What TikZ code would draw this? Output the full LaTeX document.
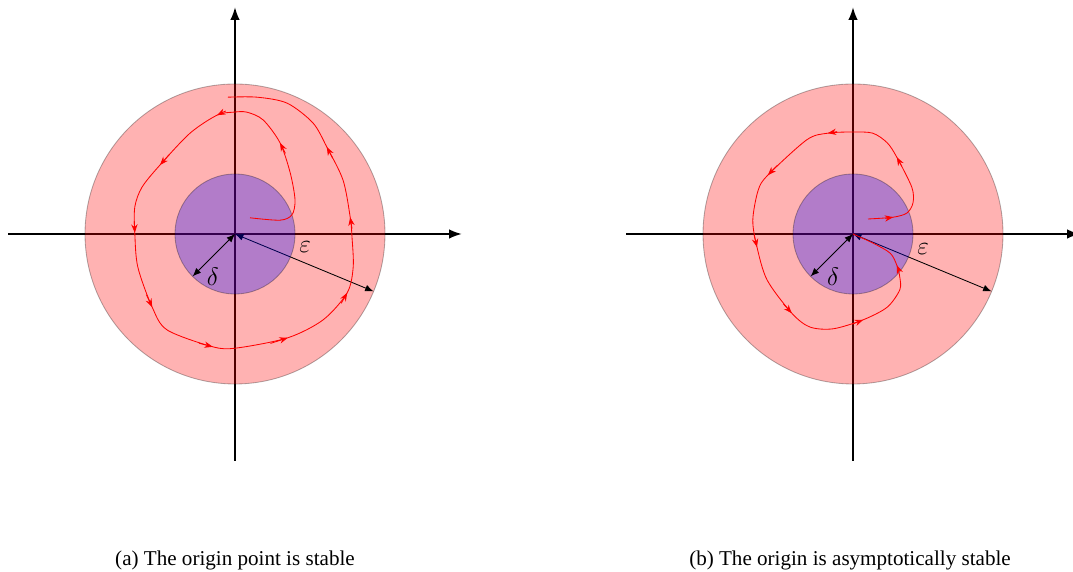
\documentclass[tikz,border=0pt]{standalone}
\usepackage{fontspec}
\setmainfont{Liberation Serif}
\usetikzlibrary{arrows.meta,calc}
\newcommand\trajtipat[3]{\draw[trajtip] ($(#2)+0.2*(#1)-0.2*(#3)$) -- (#2);}
\begin{document}
\begin{tikzpicture}[
  axis/.style={thick,-{Latex[length=6pt,width=4.5pt]}},
  outerdisc/.style={draw=black,fill=red,opacity=0.3},
  innerdisc/.style={draw=black,fill=blue,opacity=0.3},
  radiusarrow/.style={{Latex[length=4pt,width=3.2pt]}-{Latex[length=4pt,width=3.2pt]}},
  traj/.style={red},
  trajtip/.style={red,-{Stealth[length=4pt,width=3pt]}},
  lbl/.style={font=\large},
  captiontext/.style={anchor=base,font=\fontsize{10}{12}\selectfont}
]
\useasboundingbox (-3.9167,-5.6333) rectangle (13.9667,3.9);
\clip (-3.9167,-5.6333) rectangle (13.9667,3.9);

% ---------- (a) ----------
\begin{scope}
\coordinate (Oa) at (0,0);
\coordinate (Lxa) at (-3.78,0);
\coordinate (Rxa) at (3.78,0);
\coordinate (Bya) at (0,-3.78);
\coordinate (Tya) at (0,3.78);
\coordinate (Ea) at (-22.5:2.5);
\coordinate (Da) at (225:1);
\draw[axis] (Lxa) -- (Rxa);
\draw[axis] (Bya) -- (Tya);
\draw[outerdisc] (Oa) circle (2.5);
\draw[radiusarrow] (Oa) -- (Ea);
\draw[innerdisc] (Oa) circle (1);
\draw[radiusarrow] (Oa) -- (Da);
\coordinate (a4) at (0.92,1.02);
\coordinate (a5) at (0.75,1.52);
\coordinate (a6) at (0.47,1.9);
\coordinate (a8) at (-0.03,2.03);
\coordinate (a9) at (-0.3,1.98);
\coordinate (a10) at (-0.75,1.68);
\coordinate (a11) at (-1.25,1.15);
\coordinate (a12) at (-1.55,0.78);
\coordinate (a13) at (-1.67,0.45);
\coordinate (a14) at (-1.67,0.02);
\coordinate (a15) at (-1.62,-0.55);
\coordinate (a16) at (-1.38,-1.22);
\coordinate (a17) at (-1.13,-1.6);
\coordinate (a18) at (-0.37,-1.88);
\coordinate (a19) at (0.03,-1.9);
\coordinate (a20) at (0.88,-1.73);
\coordinate (a21) at (1.47,-1.43);
\coordinate (a22) at (1.87,-0.98);
\coordinate (a23) at (1.97,-0.55);
\coordinate (a24) at (1.95,-0.05);
\coordinate (a25) at (1.92,0.28);
\coordinate (a26) at (1.8,0.9);
\coordinate (a27) at (1.53,1.45);
\coordinate (a28) at (1.3,1.85);
\draw[traj] plot[smooth] coordinates {(0.25,0.27) (0.75,0.23) (0.95,0.32) (1.0,0.57) (0.92,1.02) (0.75,1.52) (0.47,1.9) (0.2,2.03) (-0.03,2.03) (-0.3,1.98) (-0.75,1.68) (-1.25,1.15) (-1.55,0.78) (-1.67,0.45) (-1.67,0.02) (-1.62,-0.55) (-1.38,-1.22) (-1.13,-1.6) (-0.37,-1.88) (0.03,-1.9) (0.88,-1.73) (1.47,-1.43) (1.87,-0.98) (1.97,-0.55) (1.95,-0.05) (1.92,0.28) (1.8,0.9) (1.53,1.45) (1.3,1.85) (0.87,2.18) (0.37,2.28) (-0.12,2.28)};
\trajtipat{a4}{a5}{a6}
\trajtipat{a8}{a9}{a10}
\trajtipat{a10}{a11}{a12}
\trajtipat{a13}{a14}{a15}
\trajtipat{a15}{a16}{a17}
\trajtipat{a17}{a18}{a19}
\trajtipat{a19}{a20}{a21}
\trajtipat{a21}{a22}{a23}
\trajtipat{a24}{a25}{a26}
\trajtipat{a26}{a27}{a28}
\node[lbl] (da) at (-0.37,-0.72) {$\delta$};
\node[lbl] (ea) at (1.17,-0.22) {$\varepsilon$};
\node[captiontext] (capa) at (0,-5.517) {(a) The origin point is stable};
\end{scope}

% ---------- (b) ----------
\begin{scope}[shift={(10.3,0)}]
\coordinate (Ob) at (0,0);
\coordinate (Lxb) at (-3.78,0);
\coordinate (Rxb) at (3.78,0);
\coordinate (Byb) at (0,-3.78);
\coordinate (Tyb) at (0,3.78);
\coordinate (Eb) at (-22.5:2.5);
\coordinate (Db) at (225:1);
\draw[axis] (Lxb) -- (Rxb);
\draw[axis] (Byb) -- (Tyb);
\draw[outerdisc] (Ob) circle (2.5);
\draw[radiusarrow] (Ob) -- (Eb);
\draw[innerdisc] (Ob) circle (1);
\draw[radiusarrow] (Ob) -- (Db);
\coordinate (b0) at (0.25,0.25);
\coordinate (b1) at (0.67,0.28);
\coordinate (b2) at (0.9,0.35);
\coordinate (b4) at (0.98,0.78);
\coordinate (b5) at (0.73,1.28);
\coordinate (b6) at (0.57,1.52);
\coordinate (b8) at (0,1.7);
\coordinate (b9) at (-0.42,1.68);
\coordinate (b10) at (-0.77,1.57);
\coordinate (b11) at (-1.42,0.98);
\coordinate (b12) at (-1.58,0.73);
\coordinate (b13) at (-1.67,0.23);
\coordinate (b14) at (-1.6,-0.22);
\coordinate (b15) at (-1.43,-0.77);
\coordinate (b16) at (-1.02,-1.32);
\coordinate (b17) at (-0.72,-1.55);
\coordinate (b18) at (-0.33,-1.58);
\coordinate (b19) at (0.17,-1.43);
\coordinate (b20) at (0.57,-1.22);
\coordinate (b22) at (0.78,-0.72);
\coordinate (b23) at (0.73,-0.52);
\coordinate (b24) at (0.62,-0.32);
\draw[traj] plot[smooth] coordinates {(0.25,0.25) (0.67,0.28) (0.9,0.35) (1.0,0.52) (0.98,0.78) (0.73,1.28) (0.57,1.52) (0.33,1.68) (0,1.7) (-0.42,1.68) (-0.77,1.57) (-1.42,0.98) (-1.58,0.73) (-1.67,0.23) (-1.6,-0.22) (-1.43,-0.77) (-1.02,-1.32) (-0.72,-1.55) (-0.33,-1.58) (0.17,-1.43) (0.57,-1.22) (0.78,-0.93) (0.78,-0.72) (0.73,-0.52) (0.62,-0.32) (0.33,-0.15) (0,0)};
\trajtipat{b0}{b1}{b2}
\trajtipat{b4}{b5}{b6}
\trajtipat{b8}{b9}{b10}
\trajtipat{b10}{b11}{b12}
\trajtipat{b13}{b14}{b15}
\trajtipat{b15}{b16}{b17}
\trajtipat{b18}{b19}{b20}
\trajtipat{b22}{b23}{b24}
\node[lbl] (db) at (-0.33,-0.72) {$\delta$};
\node[lbl] (eb) at (1.17,-0.25) {$\varepsilon$};
\node[captiontext] (capb) at (-0.05,-5.517) {(b) The origin is asymptotically stable};
\end{scope}
\end{tikzpicture}
\end{document}
